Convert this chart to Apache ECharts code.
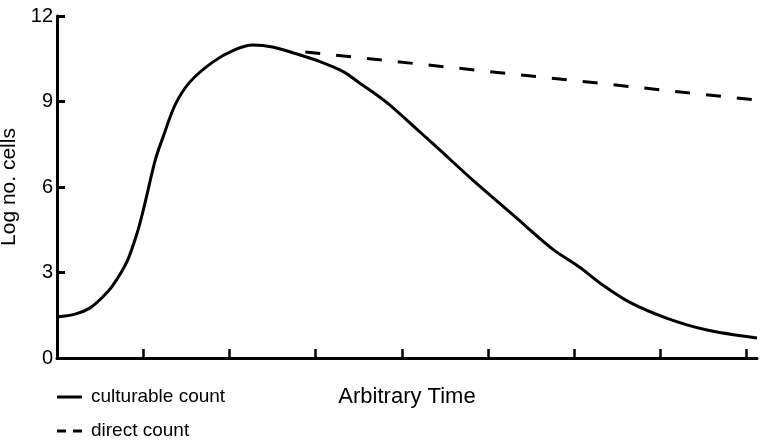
<!DOCTYPE html>
<html>
<head>
<meta charset="utf-8">
<script src="https://cdn.jsdelivr.net/npm/echarts@6/dist/echarts.min.js"></script>
<style>
  html, body { margin: 0; padding: 0; background: #fff; }
  #main { width: 772px; height: 440px; }
</style>
</head>
<body>
<div id="main"></div>
<script>
// culturable count: [time, log cells]
const culturable = [
    [0, 1.44], [0.21, 1.54], [0.38, 1.75], [0.53, 2.14], [0.65, 2.56],
    [0.81, 3.37], [0.93, 4.39], [1.01, 5.3], [1.14, 6.95],
    [1.23, 7.75], [1.37, 8.88], [1.54, 9.68], [1.81, 10.39], [2.06, 10.81],
    [2.27, 10.98], [2.5, 10.91], [2.82, 10.63], [3.05, 10.4], [3.32, 10.05],
    [3.51, 9.65], [3.83, 8.95], [4.21, 7.93], [4.44, 7.3], [4.82, 6.25],
    [5.29, 5.02], [5.75, 3.82], [6.06, 3.19], [6.33, 2.56], [6.64, 1.96],
    [7.07, 1.4], [7.54, 0.98], [8.12, 0.7]
];
// direct count
const direct = [[2.88, 10.74], [8.27, 9.0]];

const xTicks = [1, 2, 3, 4, 5, 6, 7, 8];
const seriesNames = ['culturable count', 'direct count'];

const font = 'Liberation Sans';

let chartDom = document.getElementById('main');
let myChart = echarts.init(chartDom);

// one legend per row, so the two rows sit where the picture has them
function legendAt(name, icon, top) {
    return {
        left: 57,
        top: top,
        padding: 0,
        itemWidth: 25,
        itemHeight: 14,
        textStyle: { fontFamily: font, fontSize: 19, color: '#000', lineHeight: 20, padding: [0, 0, 0, 4] },
        data: [{ name: name, icon: icon }]
    };
}

let opt = {
    animation: false,
    backgroundColor: '#fff',
    color: ['#000', '#000'],
    textStyle: { fontFamily: font, color: '#000' },
    grid: {
        left: 57, right: 15, top: 16, bottom: 82,
        outerBoundsMode: 'none'
    },
    legend: [
        legendAt(seriesNames[0], 'path://M0,0h25v3h-25Z', 387),
        legendAt(seriesNames[1], 'path://M0,0h9v3h-9Z M16,0h9v3h-9Z', 421)
    ],
    xAxis: {
        type: 'value',
        min: 0,
        max: 8.12,
        name: 'Arbitrary Time',
        nameLocation: 'middle',
        nameGap: 28,
        nameTextStyle: { fontFamily: font, fontSize: 22, color: '#000' },
        axisLine: { lineStyle: { color: '#000', width: 3 } },
        axisTick: {
            inside: true, length: 9, customValues: xTicks,
            lineStyle: { color: '#000', width: 2.5 }
        },
        axisLabel: { show: false },
        splitLine: { show: false }
    },
    yAxis: {
        type: 'value',
        min: 0,
        max: 12,
        interval: 3,
        name: 'Log no. cells',
        nameLocation: 'middle',
        nameGap: 30,
        nameTextStyle: { fontFamily: font, fontSize: 21, color: '#000' },
        axisLine: { show: true, lineStyle: { color: '#000', width: 3 } },
        axisTick: { show: true, inside: true, length: 8, lineStyle: { color: '#000', width: 3 } },
        axisLabel: { fontFamily: font, fontSize: 20, color: '#000', margin: 4 },
        splitLine: { show: false }
    },
    series: [
        {
            name: seriesNames[0],
            type: 'line',
            smooth: 0.3,
            symbol: 'none',
            clip: false,
            lineStyle: { color: '#000', width: 3 },
            data: culturable
        },
        {
            name: seriesNames[1],
            type: 'line',
            symbol: 'none',
            clip: false,
            lineStyle: { color: '#000', width: 3, type: [15, 16] },
            data: direct
        }
    ]
};
myChart.setOption(opt);
</script>
</body>
</html>
